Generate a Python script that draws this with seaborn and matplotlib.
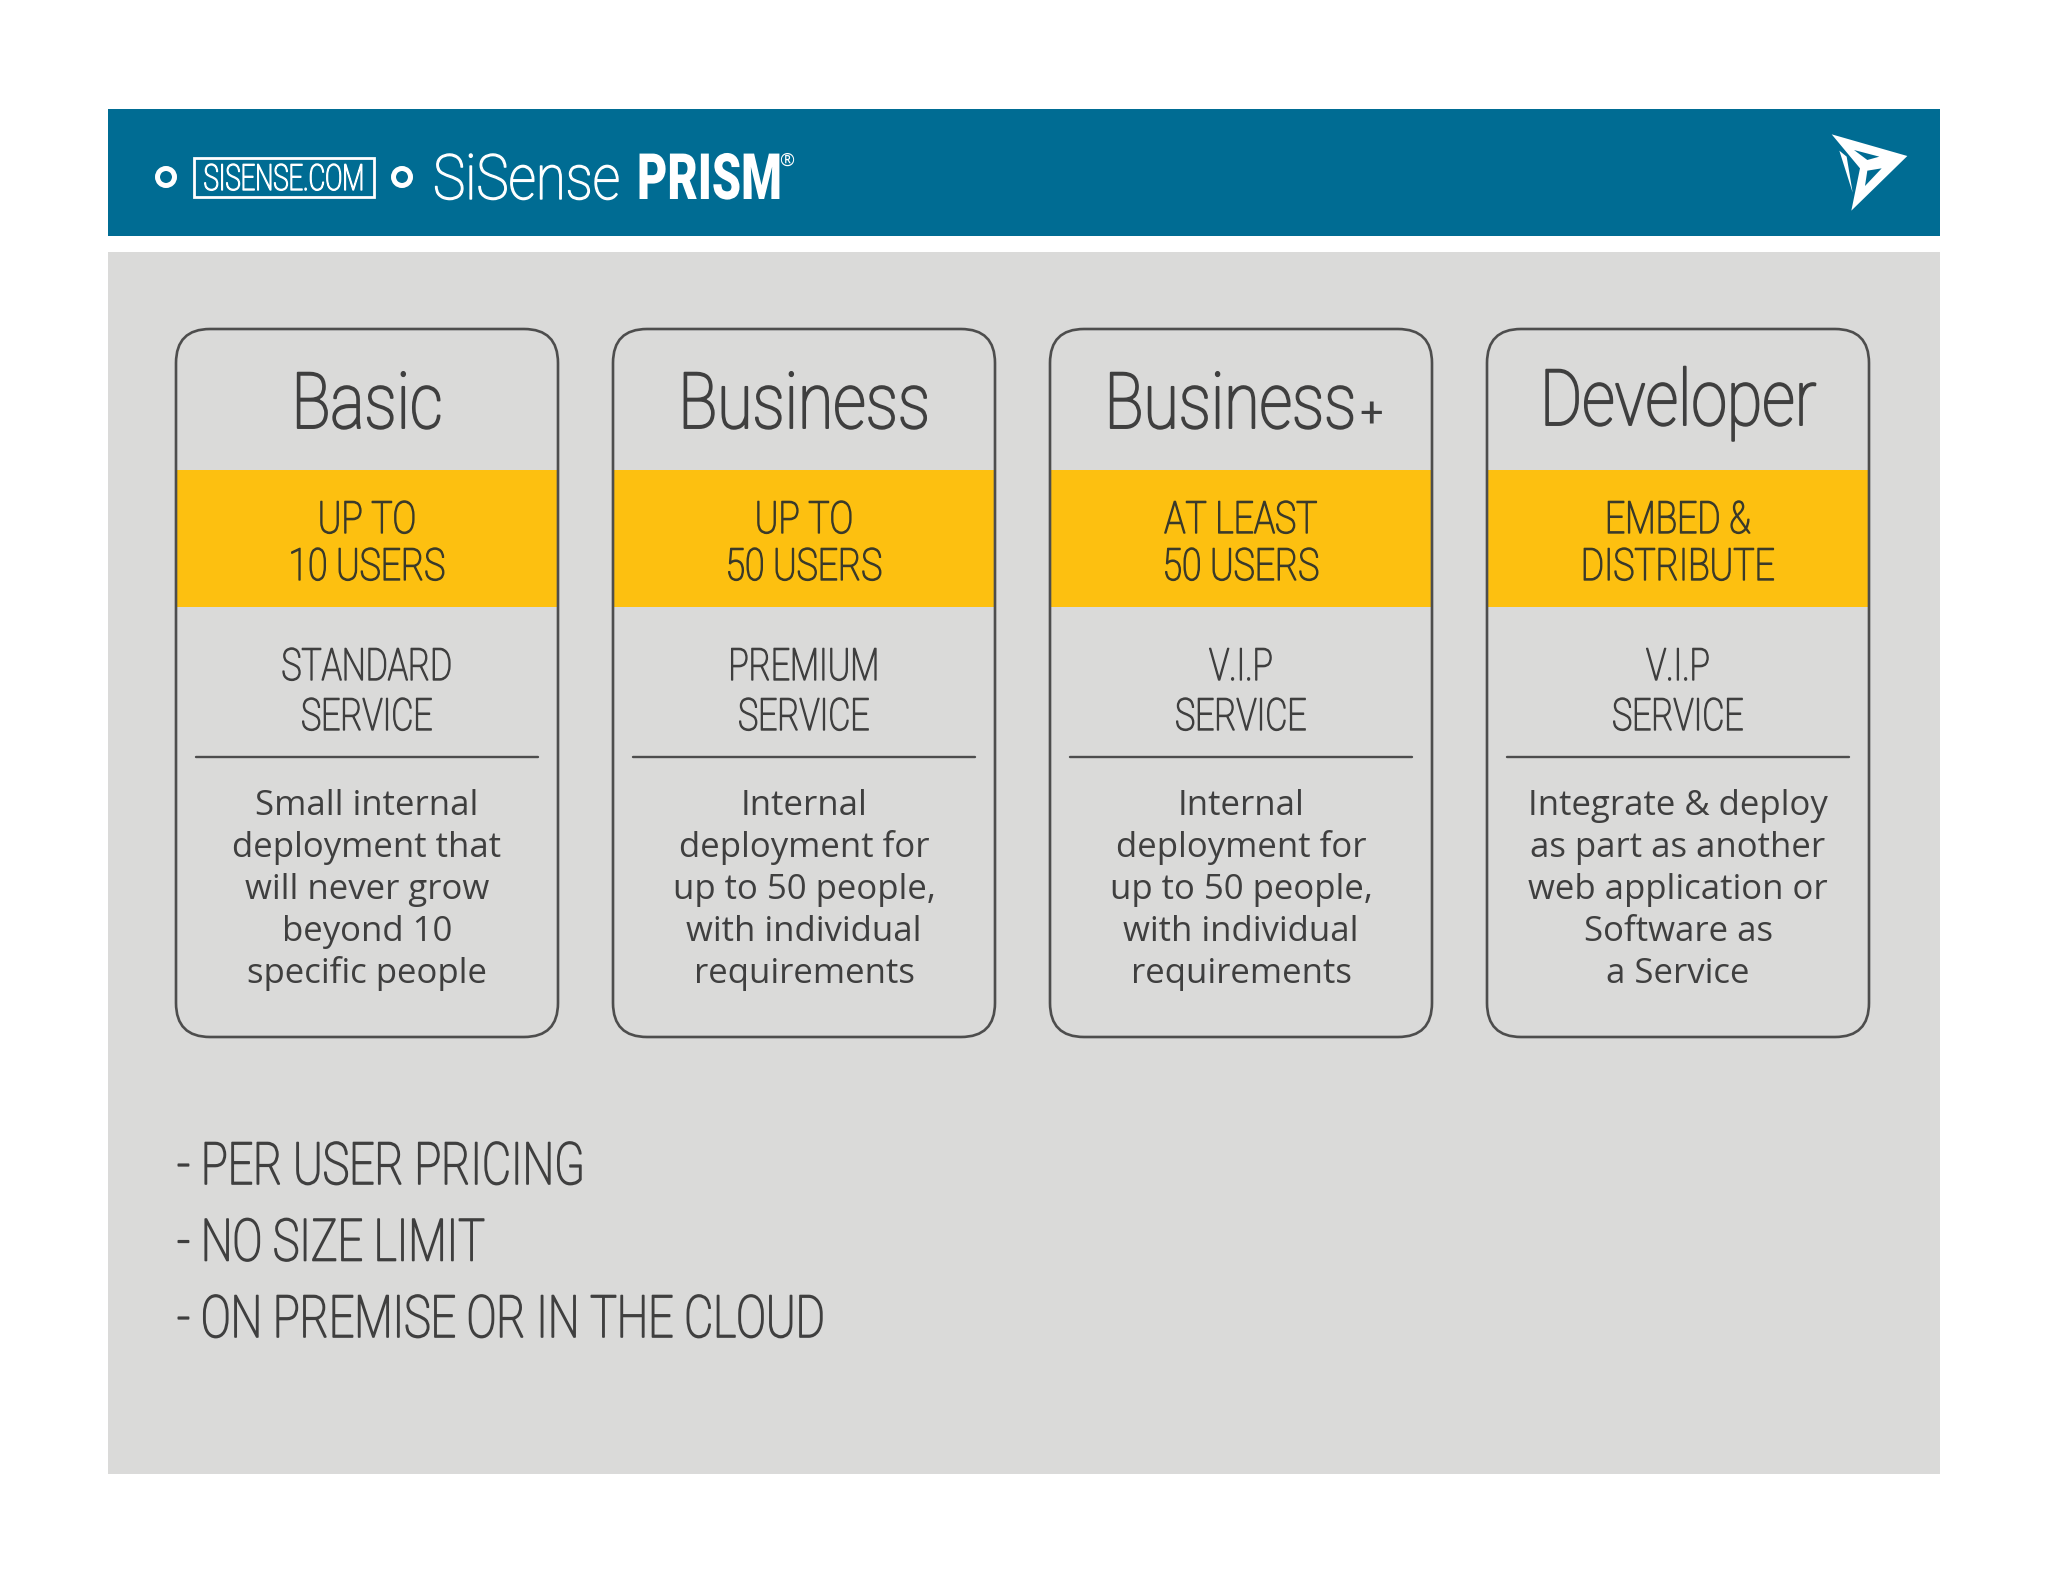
import matplotlib
matplotlib.use("Agg")
import matplotlib.pyplot as plt
from matplotlib.patches import FancyBboxPatch, Polygon, Rectangle, Circle
from matplotlib.patheffects import AbstractPathEffect
from matplotlib.transforms import Affine2D, Bbox
import seaborn as sns

sns.set_theme(style="white")
ROBOTO = ["Roboto", "DejaVu Sans"]
BODY = ["Open Sans", "DejaVu Sans"]

# contenu du tableau
plans = ["Basic", "Business", "Business", "Developer"]
users = ["UP TO\n10 USERS", "UP TO\n50 USERS", "AT LEAST\n50 USERS", "EMBED &\nDISTRIBUTE"]
service = ["STANDARD\nSERVICE", "PREMIUM\nSERVICE", "V.I.P\nSERVICE", "V.I.P\nSERVICE"]
details = [
    "Small internal\ndeployment that\nwill never grow\nbeyond 10\nspecific people",
    "Internal\ndeployment for\nup to 50 people,\nwith individual\nrequirements",
    "Internal\ndeployment for\nup to 50 people,\nwith individual\nrequirements",
    "Integrate & deploy\nas part as another\nweb application or\nSoftware as\na Service",
]
notes = ["- PER USER PRICING", "- NO SIZE LIMIT", "- ON PREMISE OR IN THE CLOUD"]
card_ids = ["c1", "c2", "c3", "c4"]
band_height = [137, 137, 137, 137]

TEAL = "#006c93"
GREY = "#dadad9"
YELLOW = "#fdc010"
DARK = "#3f3f3f"

CARD_W, CARD_STEP, CARD_X0 = 382, 437, 367


class Squeeze(AbstractPathEffect):
    """Resserre le texte autour de x (pas de police etroite installee), avec un trait pour l'epaissir"""

    def __init__(self, x, factor, stroke=0.0):
        super().__init__()
        self.x = x
        self.factor = factor
        self.stroke = stroke

    def draw_path(self, renderer, gc, tpath, affine, rgbFace=None):
        squeeze = Affine2D().translate(-self.x, 0).scale(self.factor, 1).translate(self.x, 0)
        gc0 = renderer.new_gc()
        gc0.copy_properties(gc)
        gc0.set_linewidth(self.stroke)
        gc0.set_foreground(rgbFace)
        renderer.draw_path(gc0, tpath, affine + squeeze, rgbFace)
        gc0.restore()


def narrow_text(axe, x, y, s, size, factor, ha="center", color=DARK, stroke=0.0, **kw):
    t = axe.text(x, y, s, color=color, fontsize=size, family=ROBOTO, ha=ha,
                 va="baseline", path_effects=[Squeeze(x, factor, stroke)],
                 transform=bg.transData, zorder=6, **kw)
    # la boite du texte suit le resserrement
    full_extent = t.get_window_extent

    def squeezed_extent(renderer=None, dpi=None):
        b = full_extent(renderer, dpi)
        return Bbox.from_extents(x + (b.x0 - x) * factor, b.y0, x + (b.x1 - x) * factor, b.y1)

    t.get_window_extent = squeezed_extent
    return t


fig = plt.figure(figsize=(20.48, 15.82), dpi=100, facecolor="white")

# fond en pixels
bg = fig.add_axes([0, 0, 1, 1], zorder=0)
bg.set_xlim(0, 2048)
bg.set_ylim(1582, 0)
bg.axis("off")
bg.add_patch(Rectangle((108, 109), 1832, 127, fc=TEAL, ec="none"))
bg.add_patch(Rectangle((108, 252), 1832, 1222, fc=GREY, ec="none"))

# en-tete
for cx in (166, 402):
    bg.add_patch(Circle((cx, 177), 8.5, fc="none", ec="white", lw=3.6))
bg.add_patch(Rectangle((194, 158), 180, 39, fc="none", ec="white", lw=2))
narrow_text(bg, 284, 190, "SISENSE.COM", 26, 0.71, color="white", fontweight="light", stroke=1.0)
narrow_text(bg, 433, 199, "SiSense", 45, 0.87, ha="left", color="white", fontweight="light", stroke=1.0)
narrow_text(bg, 637, 199, "PRISM", 46, 0.73, ha="left", color="white", fontweight="black")
bg.text(779, 166, "®", color="white", fontsize=13, family=BODY, ha="left", va="baseline", zorder=6)

# logo
lx = lambda v: 1780 + v / 3
ly = lambda v: 100 + v / 3
logo = [(155, 103), (382, 168), (214, 332), (240, 205)]
sliver = [(178, 152), (200, 170), (218, 278)]
holes = [[(222, 150), (298, 170), (262, 180)], [(262, 212), (305, 205), (255, 258)]]
bg.add_patch(Polygon([(lx(a), ly(b)) for a, b in logo], fc="white", ec="none"))
bg.add_patch(Polygon([(lx(a), ly(b)) for a, b in sliver], fc="white", ec="none"))
for h in holes:
    bg.add_patch(Polygon([(lx(a), ly(b)) for a, b in h], fc=TEAL, ec="none"))

# cartes : bandes jaunes via seaborn
ax = fig.add_axes([0, 0, 1, 1], zorder=1)
ax.patch.set_alpha(0)
sns.barplot(x=card_ids, y=band_height, bottom=470, width=CARD_W / CARD_STEP,
            color=YELLOW, saturation=1, linewidth=0, ax=ax)
ax.set_xlim(-CARD_X0 / CARD_STEP, (2048 - CARD_X0) / CARD_STEP)
ax.set_ylim(1582, 0)
ax.axis("off")

for i in range(4):
    cx = CARD_X0 + i * CARD_STEP
    ax.add_patch(FancyBboxPatch((cx - CARD_W / 2 + 34, 329 + 34), CARD_W - 68, 708 - 68,
                                boxstyle="round,pad=34,rounding_size=34", fc="none", ec="#4d4d4d",
                                lw=1.9, transform=bg.transData, zorder=5))
    ax.plot([cx - 171, cx + 171], [757, 757], color="#4d4d4d", lw=1.7, transform=bg.transData, zorder=5)

    if i == 2:
        narrow_text(ax, cx + 115, 428, plans[i], 56, 0.83, ha="right", fontweight="light", stroke=1.4)
        ax.text(cx + 118, 428, "+", color=DARK, fontsize=30, family=ROBOTO,
                ha="left", va="baseline", transform=bg.transData, zorder=6)
    else:
        narrow_text(ax, cx, 425 if i == 3 else 428, plans[i], 56, 0.83, fontweight="light", stroke=1.4)

    for k, line in enumerate(users[i].split("\n")):
        narrow_text(ax, cx, 533 + k * 47, line, 32, 0.80, color="#3a3a2a", fontweight="light", stroke=1.0)
    for k, line in enumerate(service[i].split("\n")):
        narrow_text(ax, cx, 680 + k * 50, line, 32, 0.76, fontweight="light", stroke=1.0)
    for k, line in enumerate(details[i].split("\n")):
        ax.text(cx, 815 + k * 42, line, color=DARK, fontsize=25, family=BODY,
                ha="center", va="baseline", transform=bg.transData, zorder=6)

# notes du bas
for k, line in enumerate(notes):
    narrow_text(ax, 177, 1184 + k * 76.5, line, 42, 0.765, ha="left", fontweight="light", stroke=1.2)

fig.savefig("out.png", dpi=100, facecolor="white")
